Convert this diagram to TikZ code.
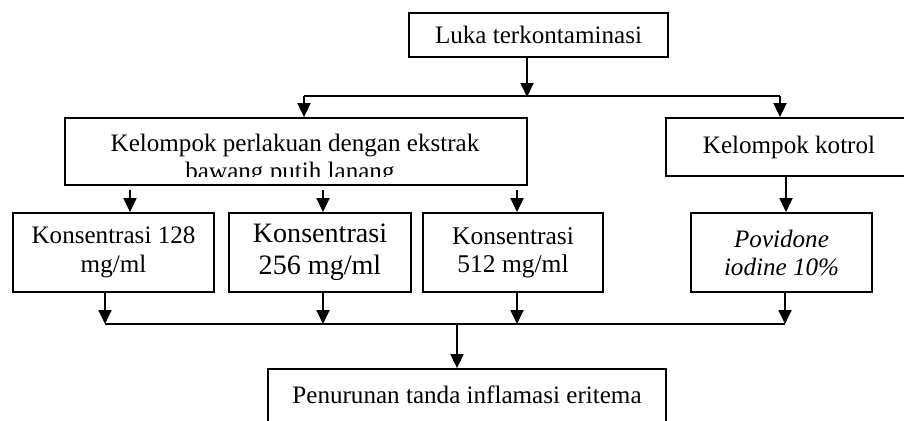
\documentclass[tikz,border=0pt]{standalone}
\usepackage{fontspec}
\setmainfont{Liberation Serif}
\usetikzlibrary{arrows.meta}
\tikzset{
  box/.style={draw=black, line width=1.8pt, rectangle, inner sep=0pt, align=center,
    font=\fontsize{25.1}{29}\selectfont},
  txt/.style={inner sep=0pt, font=\fontsize{25.1}{29}\selectfont},
  conn/.style={line width=1.8pt},
  arr/.style={line width=1.8pt, -{Triangle[width=13pt,length=14pt]}},
}
\begin{document}
\begin{tikzpicture}[x=1pt,y=-1pt]
\useasboundingbox (0,0) rectangle (904,420);
\clip (0,0) rectangle (904,420);
% boxes
\node[box, minimum width=259, minimum height=44] (luka) at (538.5,35) {Luka terkontaminasi};
\node[box, minimum width=462, minimum height=67] (perl) at (296,151.5) {};
\begin{scope}
  \clip (perl.north west) rectangle (527,176);
  \node[txt, anchor=base] (perl1) at (295,151) {Kelompok perlakuan dengan ekstrak};
  \node[txt, anchor=base] (perl2) at (290,179) {bawang putih lanang};
\end{scope}
\node[box, minimum width=246, minimum height=58] (kot) at (789,147) {Kelompok kotrol};
\node[box, minimum width=201, minimum height=79] (k1) at (113.5,252.5) {Konsentrasi 128\\mg/ml};
\node[box, minimum width=182, minimum height=79, font=\fontsize{28.1}{32}\selectfont] (k2) at (320,252.5) {Konsentrasi\\256 mg/ml};
\node[box, minimum width=180, minimum height=79, font=\fontsize{25.5}{28}\selectfont] (k3) at (513,252.5) {Konsentrasi\\512 mg/ml};
\node[box, minimum width=181, minimum height=79, font=\itshape\fontsize{25.1}{28}\selectfont] (pov) at (781.5,252.5) {Povidone\\iodine 10\%};
\node[box, minimum width=398, minimum height=71] (pen) at (467,404.5) {};
\node[txt, anchor=base] (pentext) at (467,403) {Penurunan tanda inflamasi eritema};
% top connectors
\coordinate (s0) at (527,97);
\coordinate (sl) at (304,96);
\coordinate (sr) at (780,96);
\draw[arr] (luka.south -| s0) -- (s0);
\draw[conn] (sl) -- (sr);
\draw[arr] (sl) -- (sl |- perl.north);
\draw[arr] (sr) -- (sr |- kot.north);
% middle connectors
\coordinate (a1) at (130,190);
\coordinate (a2) at (323,190);
\coordinate (a3) at (517,190);
\coordinate (a4) at (786,176);
\draw[arr] (a1) -- (a1 |- k1.north);
\draw[arr] (a2) -- (a2 |- k2.north);
\draw[arr] (a3) -- (a3 |- k3.north);
\draw[arr] (kot.south -| a4) -- (a4 |- pov.north);
% bottom connectors
\coordinate (b1) at (105,324);
\coordinate (b2) at (323,324);
\coordinate (b3) at (517,324);
\coordinate (b4) at (785,324);
\coordinate (b0) at (457,324);
\draw[arr] (k1.south -| b1) -- (b1);
\draw[arr] (k2.south -| b2) -- (b2);
\draw[arr] (k3.south -| b3) -- (b3);
\draw[arr] (pov.south -| b4) -- (b4);
\draw[conn] (b1) -- (b4);
\draw[arr] (b0) -- (b0 |- pen.north);
\end{tikzpicture}
\end{document}
